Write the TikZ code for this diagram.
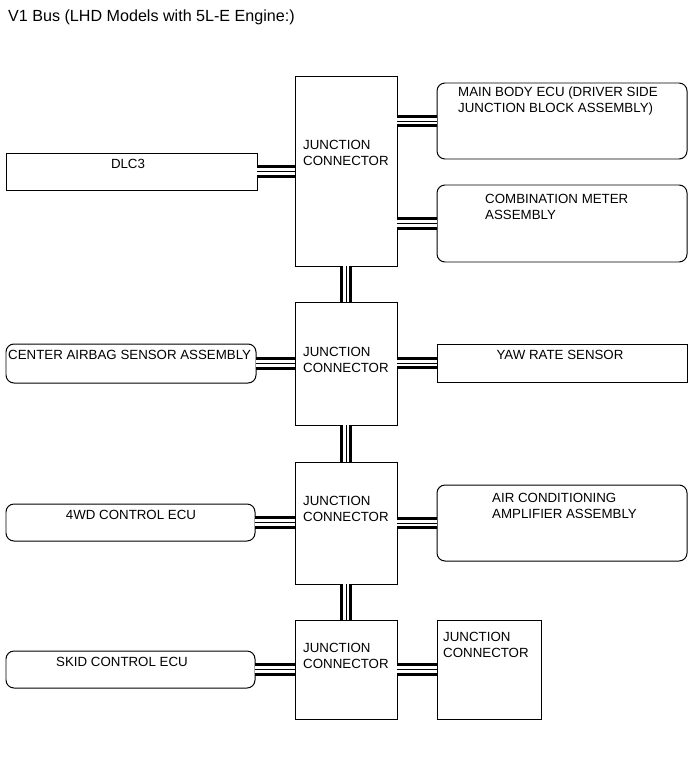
\documentclass[tikz,border=0pt]{standalone}
\usepackage{fontspec}
\setmainfont{Liberation Sans}
\usepackage{tikz}
\usetikzlibrary{positioning}

\newcommand{\lblfont}{\fontsize{11.35pt}{13.6pt}\selectfont}
\newcommand{\titlefont}{\fontsize{13.75pt}{16pt}\selectfont}

\tikzset{
  box/.style={draw, line width=0.85pt, inner sep=0pt, outer sep=0pt, anchor=north west},
  ecu/.style={box, rounded corners=2.4mm},
  lbl/.style={inner sep=0pt, align=left, font=\lblfont},
  buswire/.style={line width=0.25mm,
    preaction={draw, line width=0.95mm, double=white, double distance=1.9mm}}
}

\begin{document}
\begin{tikzpicture}[x=0.3mm, y=-0.3mm]
  \path[use as bounding box, fill=white] (0,0) rectangle (691,757);

  \node[lbl, font=\titlefont, anchor=base west] (title) at (8,22) {V1 Bus (LHD Models with 5L-E Engine:)};

  % junction connectors
  \node[box, minimum width=30.6mm, minimum height=56.7mm] (jc1) at (295,77) {};
  \node[box, minimum width=30.6mm, minimum height=36.9mm] (jc2) at (295,302) {};
  \node[box, minimum width=30.6mm, minimum height=36.6mm] (jc3) at (295,462) {};
  \node[box, minimum width=30.6mm, minimum height=29.7mm] (jc4) at (295,620) {};
  \node[box, minimum width=31.2mm, minimum height=29.7mm] (jc5) at (437,620) {};

  % ECUs and sensors
  \node[ecu, minimum width=75mm, minimum height=22.8mm] (mainbody) at (437,83) {};
  \node[ecu, minimum width=75mm, minimum height=23.1mm] (meter) at (437,185) {};
  \node[box, minimum width=75.3mm, minimum height=11.1mm] (dlc) at (6,153) {};
  \node[ecu, minimum width=75mm, minimum height=11.7mm] (airbag) at (6,344) {};
  \node[box, minimum width=75mm, minimum height=11.4mm] (yaw) at (437,344) {};
  \node[ecu, minimum width=74.7mm, minimum height=11.1mm] (fourwd) at (6,504) {};
  \node[ecu, minimum width=75mm, minimum height=22.8mm] (aircon) at (437,485) {};
  \node[ecu, minimum width=74.7mm, minimum height=11.1mm] (skid) at (6,651) {};

  % texts
  \node[lbl, anchor=north west] (jc1-t) at (303,140) {JUNCTION\\CONNECTOR};
  \node[lbl, anchor=north west] (jc2-t) at (303,347) {JUNCTION\\CONNECTOR};
  \node[lbl, anchor=north west] (jc3-t) at (303,496) {JUNCTION\\CONNECTOR};
  \node[lbl, anchor=north west] (jc4-t) at (303,643) {JUNCTION\\CONNECTOR};
  \node[lbl, anchor=north west] (jc5-t) at (443,632) {JUNCTION\\CONNECTOR};
  \node[lbl, anchor=north west] (mainbody-t) at (458,87) {MAIN BODY ECU (DRIVER SIDE\\JUNCTION BLOCK ASSEMBLY)};
  \node[lbl, anchor=north west] (meter-t) at (485,194) {COMBINATION METER\\ASSEMBLY};
  \node[lbl, anchor=north] (dlc-t) at (128,159) {DLC3};
  \node[lbl, anchor=north west] (airbag-t) at (8,350) {CENTER AIRBAG SENSOR ASSEMBLY};
  \node[lbl, anchor=north] (yaw-t) at (560,350) {YAW RATE SENSOR};
  \node[lbl, anchor=north] (fourwd-t) at (131,510) {4WD CONTROL ECU};
  \node[lbl, anchor=north west] (aircon-t) at (492,493) {AIR CONDITIONING\\AMPLIFIER ASSEMBLY};
  \node[lbl, anchor=north] (skid-t) at (122,657) {SKID CONTROL ECU};

  % bus lines
  \foreach \a/\b in {jc1/jc2, jc2/jc3, jc3/jc4}
    \draw[buswire] (\a.south) -- (\b.north);
  \foreach \j/\e in {jc1/mainbody, jc1/meter, jc2/yaw, jc3/aircon, jc4/jc5}
    \draw[buswire] (\j.east |- \e.west) -- (\e.west);
  \foreach \e/\j in {dlc/jc1, airbag/jc2, fourwd/jc3, skid/jc4}
    \draw[buswire] (\e.east) -- (\j.west |- \e.east);
\end{tikzpicture}
\end{document}
